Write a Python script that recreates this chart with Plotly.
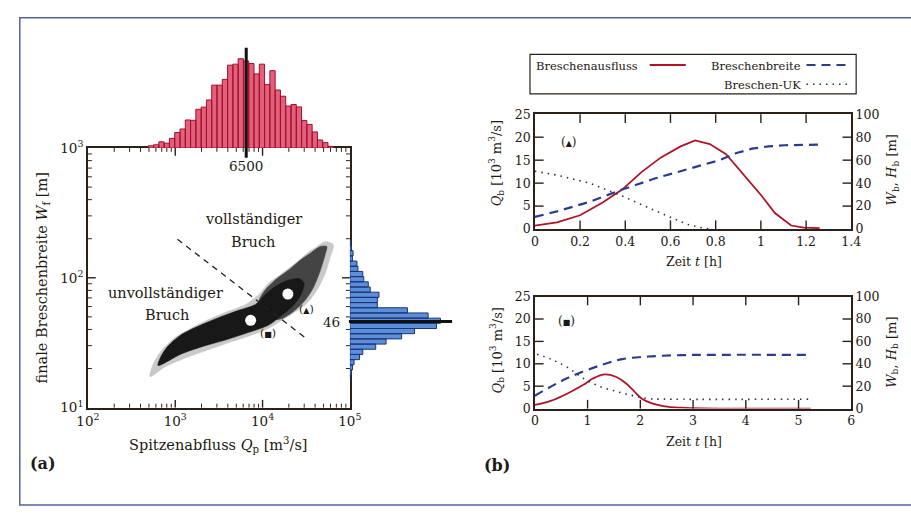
import numpy as np
import plotly.graph_objects as go

W_PX, H_PX = 911, 515
def px(x): return x / W_PX
def py(y): return 1 - y / H_PX

# ---------------- DATA ----------------
# Panel (a): histogram of peak discharge Qp (35 log-spaced bins)
qp_hist_lo, qp_hist_hi = 491, 64620
qp_counts = [2.5, 3.6, 6.9, 5.4, 10.8, 17.3, 21.3, 31.4, 31.0, 43.3, 45.8, 53.8, 70.4, 70.4,
             76.9, 92.8, 93.9, 100.0, 97.5, 94.6, 83.0, 93.9, 71.0, 86.6, 65.0, 58.0, 47.0,
             48.7, 46.0, 30.7, 26.4, 18.0, 9.0, 6.0, 1.8]
qp_median = 6500
# histogram of final breach width Wf (27 log-spaced bins, bottom to top)
wf_hist_lo, wf_hist_hi = 16.2, 194.5
wf_counts = [2, 4, 8, 13, 30, 40, 80, 112, 160, 200, 268, 280, 242, 178, 85, 85, 90, 63, 57,
             43, 40, 25, 22, 8, 10, 5, 3]
wf_median = 46
# scatter cloud envelopes (Qp [m3/s], Wf [m])
cloud_outer_q = [513, 754, 1373, 2499, 4550, 7603, 11668, 16430, 23134, 32590, 42120, 52180, 59330,
                 64620, 52180, 42120, 32590, 23134, 16430, 11668, 9024, 6407, 4176, 2499, 1495, 974, 692, 559]
cloud_outer_w = [17.3, 20.5, 24.4, 28.1, 32.4, 36.3, 40.7, 46.9, 54.1, 64.3, 80.7, 107.4, 142.8,
                 179.5, 190.0, 174.4, 155.6, 127.5, 107.4, 90.5, 74.1, 62.4, 55.7, 48.3, 40.7, 34.3, 27.3, 21.7]
cloud_mid_q = [16430, 23134, 31222, 38670, 45880, 52180, 54460, 45880, 35497, 26310, 19498, 13847, 10708, 9024, 11668]
cloud_mid_w = [48.3, 55.7, 68.0, 85.5, 113.7, 151.2, 174.4, 174.4, 155.6, 134.9, 113.7, 95.8, 80.7, 64.3, 48.3]
cloud_core_q = [635, 1157, 2106, 3834, 6981, 11668, 16430, 22167, 27458, 29915, 26310, 19498, 13847,
                10708, 8284, 5400, 3230, 1933, 1157, 821, 692]
cloud_core_w = [21.1, 25.8, 29.7, 33.3, 38.0, 43.1, 51.2, 60.7, 74.1, 90.5, 98.6, 95.8, 85.5,
                74.1, 62.4, 56.4, 49.7, 43.1, 36.3, 29.7, 25.1]
# highlighted events (triangle, square)
event_q = [19500, 7300]
event_w = [75, 47]
# boundary complete / incomplete breach
bound_q = [1060, 31300]
bound_w = [198, 34.3]

# Panel (b) top: event (triangle)
tA_q = [0, 0.098, 0.2, 0.3, 0.386, 0.472, 0.558, 0.645, 0.709, 0.774, 0.846, 0.918, 1.004, 1.062, 1.134, 1.19, 1.26]
QA = [0.77, 1.47, 3.0, 5.8, 8.6, 12.4, 15.6, 18.0, 19.3, 18.5, 16.3, 12.1, 7.2, 3.5, 0.77, 0.3, 0.2]
tA_w = [0, 0.098, 0.242, 0.386, 0.53, 0.673, 0.76, 0.817, 0.889, 0.961, 1.033, 1.105, 1.263]
WA = [10.6, 15.4, 23.7, 34.4, 44, 52, 56.7, 60, 66, 70, 72, 73, 73.5]
tA_h = [0, 0.098, 0.242, 0.386, 0.53, 0.673, 0.745, 0.78]
HA = [50.3, 47, 40, 28.8, 16.2, 4.2, 0.8, 0]
# Panel (b) bottom: event (square)
tB_q = [0, 0.30, 0.61, 0.92, 1.10, 1.30, 1.535, 1.72, 1.88, 2.03, 2.22, 2.46, 2.77, 3.2, 5.23]
QB = [0.8, 1.7, 3.3, 5.3, 6.7, 7.6, 7.1, 5.7, 3.9, 2.2, 1.15, 0.5, 0.2, 0.05, 0.0]
tB_w = [0, 0.61, 1.29, 1.66, 2.15, 2.77, 3.4, 5.17]
WB = [11.5, 27, 39.4, 44.2, 46.5, 47.7, 48, 48]
tB_h = [0.04, 0.3, 0.61, 0.92, 1.23, 1.53, 1.84, 2.15, 2.46, 5.26]
HB = [48.5, 44.2, 37, 27, 19.8, 15.5, 11.8, 8.9, 8.4, 8.4]

# ---------------- STYLE ----------------
FONT = "DejaVu Serif"
INK = "#1e1812"
AX = "#2b2118"
RED = "#b0122a"
BLUE = "#2b3c8e"
DOT = "#333333"

fig = go.Figure()

def bars_path(edges, counts, horizontal=False):
    xs, ys = [], []
    for e0, e1, c in zip(edges[:-1], edges[1:], counts):
        a = [e0, e0, e1, e1, e0, None]
        b = [0, c, c, 0, 0, None]
        if horizontal:
            xs += b; ys += a
        else:
            xs += a; ys += b
    return xs, ys

# top histogram
qe = np.logspace(np.log10(qp_hist_lo), np.log10(qp_hist_hi), len(qp_counts) + 1)
hx, hy = bars_path(qe, qp_counts)
fig.add_trace(go.Scatter(x=hx, y=hy, xaxis="x2", yaxis="y2", mode="lines", fill="toself",
                         fillcolor="#e2607c", line=dict(color="#a30f2c", width=1), hoverinfo="skip"))
# right histogram
we = np.logspace(np.log10(wf_hist_lo), np.log10(wf_hist_hi), len(wf_counts) + 1)
vx, vy = bars_path(we, wf_counts, horizontal=True)
fig.add_trace(go.Scatter(x=vx, y=vy, xaxis="x3", yaxis="y3", mode="lines", fill="toself",
                         fillcolor="#5b8edb", line=dict(color="#1c3470", width=1), hoverinfo="skip"))

# scatter cloud
for qq, ww, col in [(cloud_outer_q, cloud_outer_w, "#c9c9c9"),
                    (cloud_mid_q, cloud_mid_w, "#444444"),
                    (cloud_core_q, cloud_core_w, "#181818")]:
    fig.add_trace(go.Scatter(x=qq + qq[:1], y=ww + ww[:1], mode="lines", fill="toself",
                             fillcolor=col, line=dict(color=col, width=0.5, shape="spline", smoothing=0.8),
                             xaxis="x", yaxis="y", hoverinfo="skip"))
fig.add_trace(go.Scatter(x=bound_q, y=bound_w, mode="lines", line=dict(color="#222", width=1.3, dash="6px,5px"),
                         xaxis="x", yaxis="y"))
fig.add_trace(go.Scatter(x=event_q, y=event_w, mode="markers",
                         marker=dict(color="white", size=11, line=dict(width=0)), xaxis="x", yaxis="y"))

# panel (b) lines
def add_lines(xa, yl, yr, tq, q, tw, w, th, h, shape):
    fig.add_trace(go.Scatter(x=tq, y=q, mode="lines", line=dict(color=RED, width=1.8, shape=shape),
                             xaxis=xa, yaxis=yl))
    fig.add_trace(go.Scatter(x=tw, y=w, mode="lines", line=dict(color=BLUE, width=2.2, dash="9px,6px", shape=shape),
                             xaxis=xa, yaxis=yr))
    fig.add_trace(go.Scatter(x=th, y=h, mode="lines", line=dict(color=DOT, width=1.6, dash="1.5px,5px", shape=shape),
                             xaxis=xa, yaxis=yr))

add_lines("x4", "y4", "y5", tA_q, QA, tA_w, WA, tA_h, HA, "linear")
add_lines("x6", "y6", "y7", tB_q, QB, tB_w, WB, tB_h, HB, "spline")

# ---------------- AXES ----------------
tickfont_a = dict(family=FONT, size=13.5, color=INK)
tickfont_b = dict(family=FONT, size=12.5, color=INK)
SC_L, SC_R, SC_T, SC_B = 78, 347, 143, 412
sc_x_dom = [px(SC_L), px(SC_R)]
sc_y_dom = [py(SC_B), py(SC_T)]

q_major = [1e2, 1e3, 1e4, 1e5]
w_major = [10, 100, 1000]
q_minor = [m * 10 ** k for k in range(2, 5) for m in range(2, 10)]
w_minor = [m * 10 ** k for k in range(1, 3) for m in range(2, 10)]

common_a = dict(showgrid=False, zeroline=False, showline=True, linecolor=AX, linewidth=1.5,
                mirror=True, ticks="", tickfont=tickfont_a)
layout = dict(
    width=W_PX, height=H_PX, margin=dict(l=0, r=0, t=0, b=0),
    paper_bgcolor="white", plot_bgcolor="rgba(0,0,0,0)", showlegend=False,
    xaxis=dict(type="log", range=[2, 5], domain=sc_x_dom, anchor="y",
               tickmode="array", tickvals=q_major,
               ticktext=["10<sup>2</sup>", "10<sup>3</sup>", "10<sup>4</sup>", "10<sup>5</sup>"], **common_a),
    yaxis=dict(type="log", range=[1, 3], domain=sc_y_dom, anchor="x",
               tickmode="array", tickvals=w_major,
               ticktext=["10<sup>1</sup>", "10<sup>2</sup>", "10<sup>3</sup>"], **common_a),
    xaxis2=dict(type="log", range=[2, 5], domain=sc_x_dom, anchor="y2", visible=False),
    yaxis2=dict(range=[0, max(qp_counts) * 1.135], domain=[py(SC_T), py(38)], anchor="x2", visible=False),
    xaxis3=dict(range=[0, max(wf_counts) * 1.215], domain=[px(SC_R), px(460)], anchor="y3", visible=False),
    yaxis3=dict(type="log", range=[1, 3], domain=sc_y_dom, anchor="x3", visible=False),
)

common_b = dict(showgrid=False, zeroline=False, showline=True, linecolor=AX, linewidth=1.5,
                ticks="", tickfont=tickfont_b)
B_L, B_R = 537, 862
b_x_dom = [px(B_L), px(B_R)]
panels_b = [("xaxis4", "yaxis4", "yaxis5", (227, 108), [0, 1.4], 0.2),
            ("xaxis6", "yaxis6", "yaxis7", (413, 297), [0, 6], 1)]
for xa, ya, yr, (yb, yt), xr, dt in panels_b:
    xn, yn = xa.replace("axis", ""), ya.replace("axis", "")
    layout[xa] = dict(range=xr, dtick=dt, domain=b_x_dom, anchor=yn, mirror=True, **common_b)
    layout[ya] = dict(range=[0, 25], dtick=5, domain=[py(yb), py(yt)], anchor=xn, **common_b)
    layout[yr] = dict(range=[0, 100], dtick=20, overlaying=yn, side="right", anchor=xn, **common_b)

fig.update_layout(**layout)

# ---------------- SHAPES ----------------
shapes = [
    dict(type="rect", xref="paper", yref="paper", x0=px(8), x1=1.02, y0=py(513), y1=py(8),
         line=dict(color="#55639a", width=1.5), fillcolor="rgba(0,0,0,0)", layer="below"),
    dict(type="line", xref="x2", yref="paper", x0=qp_median, x1=qp_median, y0=py(153), y1=py(39),
         line=dict(color="#111", width=3)),
    dict(type="line", xref="paper", yref="y3", x0=px(346), x1=px(452), y0=wf_median, y1=wf_median,
         line=dict(color="#111", width=3)),
    # legend box
    dict(type="rect", xref="paper", yref="paper", x0=px(532), x1=px(867), y0=py(87), y1=py(46),
         line=dict(color=AX, width=1.2)),
    dict(type="line", xref="paper", yref="paper", x0=px(655), x1=px(692), y0=py(57), y1=py(57),
         line=dict(color=RED, width=1.8)),
    dict(type="line", xref="paper", yref="paper", x0=px(816), x1=px(858), y0=py(57), y1=py(57),
         line=dict(color=BLUE, width=2.2, dash="9px,6px")),
    dict(type="line", xref="paper", yref="paper", x0=px(816), x1=px(858), y0=py(77), y1=py(77),
         line=dict(color=DOT, width=1.6, dash="1.5px,5px")),
]

# inside tick marks on all four sides of each frame (axis geometry -> paper positions)
def seg(x0, y0, x1, y1, w):
    shapes.append(dict(type="line", xref="paper", yref="paper", x0=px(x0), x1=px(x1), y0=py(y0), y1=py(y1),
                       line=dict(color=AX, width=w)))

def frame_ticks(xpos, ypos, L_, T, R, B, w):
    for X in xpos:
        seg(X, B, X, B - L_, w)
        seg(X, T, X, T + L_, w)
    for Y in ypos:
        seg(L_ * 0 + Lft[0], Y, Lft[0] + L_, Y, w)
        seg(R, Y, R - L_, Y, w)

def qx(v): return SC_L + (np.log10(v) - 2) / 3 * (SC_R - SC_L)
def wy(v): return SC_B - (np.log10(v) - 1) / 2 * (SC_B - SC_T)

Lft = [SC_L]
frame_ticks([qx(v) for v in q_major[1:-1]], [wy(v) for v in w_major[1:-1]], 8, SC_T, SC_R, SC_B, 1.4)
frame_ticks([qx(v) for v in q_minor], [wy(v) for v in w_minor], 4, SC_T, SC_R, SC_B, 1.0)
for xa, ya, yr, (yb, yt), xr, dt in panels_b:
    Lft = [B_L]
    xt = [B_L + v / xr[1] * (B_R - B_L) for v in np.arange(xr[0], xr[1] + dt / 2, dt)][1:-1]
    yt_ = [yb - v / 25 * (yb - yt) for v in (5, 10, 15, 20)]
    frame_ticks(xt, yt_, 9, yt, B_R, yb, 1.4)

fig.update_layout(shapes=shapes)

# ---------------- TEXT ----------------
def ann(text, x, y, size=13, xanchor="center", yanchor="middle", angle=0, bold=False, xref="paper", yref="paper"):
    if bold:
        text = "<b>" + text + "</b>"
    fig.add_annotation(text=text, x=x, y=y, xref=xref, yref=yref, showarrow=False,
                       xanchor=xanchor, yanchor=yanchor, textangle=angle,
                       font=dict(family=FONT, size=size, color=INK))

SA = 14.5
ann("finale Breschenbreite <i>W</i><sub>f</sub> [m]", px(32), py(278), size=SA, angle=-90)
ann("Spitzenabfluss <i>Q</i><sub>p</sub> [m<sup>3</sup>/s]", px(212), py(451), size=SA)
ann("(a)", px(32), py(470), size=16, bold=True)
ann("(b)", px(498), py(472), size=16, bold=True)
ann("6500", np.log10(qp_median), py(162), size=13.5, xref="x")
ann("46", px(339), np.log10(wf_median), size=13.5, xanchor="right", yref="y")
ann("vollständiger", px(248), py(217), size=SA)
ann("Bruch", px(248), py(240), size=SA)
ann("unvollständiger", px(158), py(293), size=SA)
ann("Bruch", px(159), py(316), size=SA)
TRI = "(<span style='font-size:8px'>▲</span>)"
SQ = "(<span style='font-size:8px'>■</span>)"
ann(TRI, px(302), py(310), size=11)
ann(SQ, px(263), py(335), size=11)

ann(TRI, px(572), py(137), size=12)
ann(SQ, px(570), py(322), size=12)
ann("Zeit <i>t</i> [h]", px(700), py(261), size=12.5)
ann("Zeit <i>t</i> [h]", px(700), py(447), size=12.5)
for yl, yr in ((159, 166), (353, 355)):
    ann("<i>Q</i><sub>b</sub> [10<sup>3</sup> m<sup>3</sup>/s]", px(498), py(yl), size=13, angle=-90)
    ann("<i>W</i><sub>b</sub>, <i>H</i><sub>b</sub> [m]", px(904), py(yr), size=13, angle=-90)

# legend text
ann("Breschenausfluss", px(645), py(58), size=11.5, xanchor="right")
ann("Breschenbreite", px(812), py(58), size=11.5, xanchor="right")
ann("Breschen-UK", px(812), py(78), size=11.5, xanchor="right")

fig.write_html("out.html")
